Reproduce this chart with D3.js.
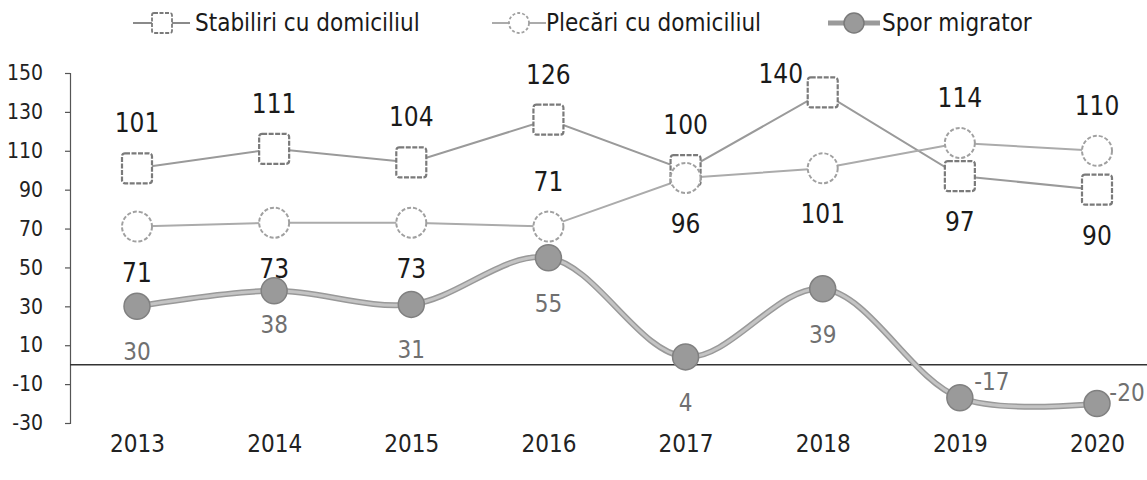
<!DOCTYPE html>
<html><head><meta charset="utf-8">
<script src="https://cdn.jsdelivr.net/npm/d3@7"></script>
<style>
html,body{margin:0;padding:0;background:#fff;}
svg text{font-family:"Liberation Sans Narrow","DejaVu Sans Condensed","Noto Sans",sans-serif;}
</style></head>
<body><svg id="c" width="1147" height="480"></svg>
<script>
// ---- data ----
const years = ["2013","2014","2015","2016","2017","2018","2019","2020"];
const stabiliri = [101,111,104,126,100,140,97,90];
const plecari = [71,73,73,71,96,101,114,110];
const spor = [30,38,31,55,4,39,-17,-20];
const yTicks = [-30,-10,10,30,50,70,90,110,130,150];
const seriesNames = ["Stabiliri cu domiciliul","Plecări cu domiciliul","Spor migrator"];
// label placement (layout only)
const stabPlace = ["top","top","top","top","top","topleft","bottom","bottom"];
const plecPlace = ["bottom","bottom","bottom","top","bottom","bottom","top","top"];
const sporPlace = ["bottom","bottomnear","bottom","bottom","bottom","bottom","topright","right"];

const FONT = '"Liberation Sans Narrow","DejaVu Sans Condensed",sans-serif';
const svg = d3.select("#c");
const x = d3.scalePoint().domain(years).range([137,1097]);
const y = d3.scaleLinear().domain([-30,150]).range([423,73]);

// y axis
const yAxis = d3.axisLeft(y).tickValues(yTicks).tickSize(5).tickPadding(22).tickFormat(d=>String(d));
const ga = svg.append("g").attr("transform","translate(70,0)").call(yAxis);
ga.select(".domain").attr("stroke","#555").attr("stroke-width",1.2);
ga.selectAll(".tick line").attr("stroke","#555").attr("stroke-width",1.2);
ga.selectAll(".tick text").attr("font-size",21).attr("fill","#222").style("font-family",FONT);

// x axis labels (no line)
const xAxis = d3.axisBottom(x).tickSize(0).tickPadding(0);
const gx = svg.append("g").attr("transform","translate(0,429)").call(xAxis);
gx.select(".domain").remove();
gx.selectAll(".tick text").attr("font-size",24).attr("fill","#222").attr("dy","0.95em").style("font-family",FONT);

// zero line
svg.append("line").attr("x1",70).attr("x2",1147).attr("y1",y(0)).attr("y2",y(0))
  .attr("stroke","#333").attr("stroke-width",1.5);

const line = d3.line().x((d,i)=>x(years[i])).y(d=>y(d));

// Stabiliri
svg.append("path").datum(stabiliri).attr("d",line).attr("fill","none")
  .attr("stroke","#9a9a9a").attr("stroke-width",2);
// Plecari
svg.append("path").datum(plecari).attr("d",line).attr("fill","none")
  .attr("stroke","#ababab").attr("stroke-width",2);

svg.selectAll(".sq").data(stabiliri).join("rect").attr("class","sq")
  .attr("x",(d,i)=>x(years[i])-15).attr("y",d=>y(d)-15).attr("width",30).attr("height",30)
  .attr("rx",3).attr("fill","#fff").attr("stroke","#7a7a7a").attr("stroke-width",2.2)
  .attr("stroke-dasharray","5,1.5");
svg.selectAll(".ci").data(plecari).join("circle").attr("class","ci")
  .attr("cx",(d,i)=>x(years[i])).attr("cy",d=>y(d)).attr("r",15)
  .attr("fill","#fff").attr("stroke","#a0a0a0").attr("stroke-width",2)
  .attr("stroke-dasharray","4,2");

// Spor
const curve = d3.line().x((d,i)=>x(years[i])).y(d=>y(d)).curve(d3.curveCatmullRom.alpha(0.5));
svg.append("path").datum(spor).attr("d",curve).attr("fill","none")
  .attr("stroke","#999").attr("stroke-width",6);
svg.append("path").datum(spor).attr("d",curve).attr("fill","none")
  .attr("stroke","#c4c4c4").attr("stroke-width",3);
svg.selectAll(".sp").data(spor).join("circle").attr("class","sp")
  .attr("cx",(d,i)=>x(years[i])).attr("cy",d=>y(d)).attr("r",13)
  .attr("fill","#9a9a9a").attr("stroke","#808080").attr("stroke-width",1.5);

// labels
function off(p){
  switch(p){
    case "top": return [0,-45];
    case "bottom": return [0,46];
    case "topleft": return [-42,-18];
    case "bottomnear": return [0,34];
    case "topright": return [32,-16];
    case "right": return [30,-11];
  }
}
function labels(data,place,cls,color,size){
  svg.selectAll("."+cls).data(data).join("text").attr("class",cls)
    .attr("x",(d,i)=>x(years[i])+off(place[i])[0])
    .attr("y",(d,i)=>y(d)+off(place[i])[1])
    .attr("text-anchor","middle").attr("dominant-baseline","central")
    .attr("font-size",size).attr("fill",color).text(d=>d);
}
labels(stabiliri,stabPlace,"ls","#1a1a1a",26);
labels(plecari,plecPlace,"lp","#1a1a1a",26);
labels(spor,sporPlace,"lz","#707070",24);

// legend
const lg = svg.append("g");
const legX = [133,492,828];
const legTextX = [195,546,882];
const ly = 23;
// item 1
lg.append("line").attr("x1",legX[0]).attr("x2",legX[0]+57).attr("y1",ly).attr("y2",ly).attr("stroke","#8a8a8a").attr("stroke-width",2);
lg.append("rect").attr("x",legX[0]+19).attr("y",ly-10).attr("width",20).attr("height",20).attr("rx",2)
  .attr("fill","#fff").attr("stroke","#7a7a7a").attr("stroke-width",1.8).attr("stroke-dasharray","4,1.5");
// item 2
lg.append("line").attr("x1",legX[1]).attr("x2",legX[1]+54).attr("y1",ly).attr("y2",ly).attr("stroke","#ababab").attr("stroke-width",2);
lg.append("circle").attr("cx",legX[1]+27).attr("cy",ly).attr("r",10)
  .attr("fill","#fff").attr("stroke","#a0a0a0").attr("stroke-width",1.8).attr("stroke-dasharray","3,2");
// item 3
lg.append("line").attr("x1",legX[2]).attr("x2",legX[2]+52).attr("y1",ly).attr("y2",ly).attr("stroke","#9a9a9a").attr("stroke-width",5);
lg.append("circle").attr("cx",legX[2]+26).attr("cy",ly).attr("r",10)
  .attr("fill","#9a9a9a").attr("stroke","#7a7a7a").attr("stroke-width",1.5);
lg.selectAll(".lt").data(seriesNames).join("text").attr("class","lt")
  .attr("x",(d,i)=>legTextX[i]).attr("y",ly).attr("dominant-baseline","central")
  .attr("font-size",24).attr("fill","#1a1a1a").text(d=>d);
</script></body></html>
